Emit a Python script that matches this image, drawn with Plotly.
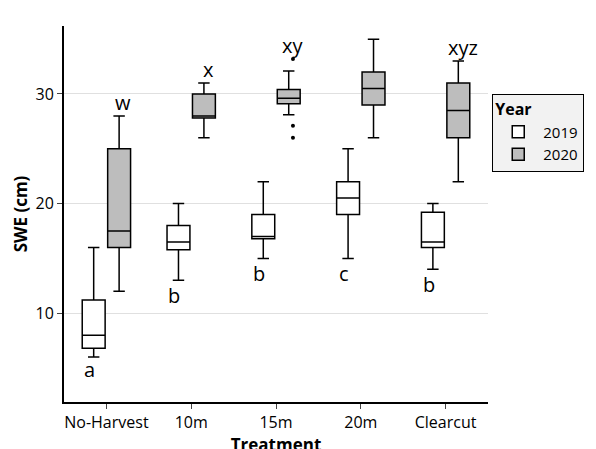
import plotly.graph_objects as go

treatments = ["No-Harvest", "10m", "15m", "20m", "Clearcut"]
low19 = [6.0, 13, 15, 15, 14]
q1_19 = [6.8, 15.8, 16.8, 19, 16]
med19 = [8, 16.5, 17, 20.5, 16.5]
q3_19 = [11.2, 18, 19, 22, 19.2]
up19 = [16, 20, 22, 25, 20]
low20 = [12, 26, 28.1, 26, 22]
q1_20 = [16, 27.8, 29.1, 29, 26]
med20 = [17.5, 28, 29.6, 30.5, 28.5]
q3_20 = [25, 30, 30.4, 32, 31]
up20 = [28, 31, 32.1, 35, 33]
out20_idx = [2, 2, 2]
out20_y = [33.2, 27.1, 26.0]
lab19 = ["a", "b", "b", "c", "b"]
lab20 = ["w", "x", "xy", "zy", "xyz"]
lab19_y = [4.9, 11.6, 13.6, 13.6, 12.6]
lab20_y = [29.2, 32.2, 34.4, 36.4, 34.2]

fig = go.Figure()
fig.add_trace(go.Box(name="2019", x=treatments, q1=q1_19, median=med19, q3=q3_19,
                     lowerfence=low19, upperfence=up19, fillcolor="white",
                     line=dict(color="black", width=1.5), offsetgroup="a"))
fig.add_trace(go.Box(name="2020", x=treatments, q1=q1_20, median=med20, q3=q3_20,
                     lowerfence=low20, upperfence=up20, fillcolor="#bdbdbd",
                     line=dict(color="black", width=1.5), offsetgroup="b"))
fig.add_trace(go.Scatter(x=[i + 0.2 for i in out20_idx], y=out20_y, mode="markers",
                         showlegend=False, marker=dict(color="black", size=4),
                         xaxis="x2", yaxis="y"))

for i, t in enumerate(treatments):
    fig.add_annotation(x=i - 0.2, y=lab19_y[i], xref="x2", text=lab19[i], showarrow=False,
                       font=dict(size=20, color="black"))
    fig.add_annotation(x=i + 0.2, y=lab20_y[i], xref="x2", text=lab20[i], showarrow=False,
                       font=dict(size=20, color="black"))

fig.update_layout(
    width=596, height=449, plot_bgcolor="white", paper_bgcolor="white",
    margin=dict(l=50, r=116, t=18, b=52),
    boxmode="group", boxgap=0.4, boxgroupgap=0.1,
    font=dict(family="Open Sans", color="black"),
    xaxis=dict(title=dict(text="<b>Treatment</b>", font=dict(size=17), standoff=0),
               showline=True, linecolor="black", linewidth=2, ticks="outside",
               tickfont=dict(size=16), range=[-0.5, 4.5]),
    xaxis2=dict(overlaying="x", range=[-0.5, 4.5], visible=False),
    yaxis=dict(title=dict(text="<b>SWE (cm)</b>", font=dict(size=17), standoff=4),
               range=[1.9, 36.2], tickvals=[10, 20, 30], showgrid=True,
               gridcolor="#e0e0e0", showline=True, linecolor="black", linewidth=2,
               ticks="outside", tickfont=dict(size=16), zeroline=False),
    legend=dict(title=dict(text="<b>Year</b>", font=dict(size=16)), x=1.01, y=0.82,
                yanchor="top", bgcolor="#f2f2f2", bordercolor="black", borderwidth=1,
                font=dict(size=15), itemwidth=40, tracegroupgap=15),
)
fig.write_html("out.html")
